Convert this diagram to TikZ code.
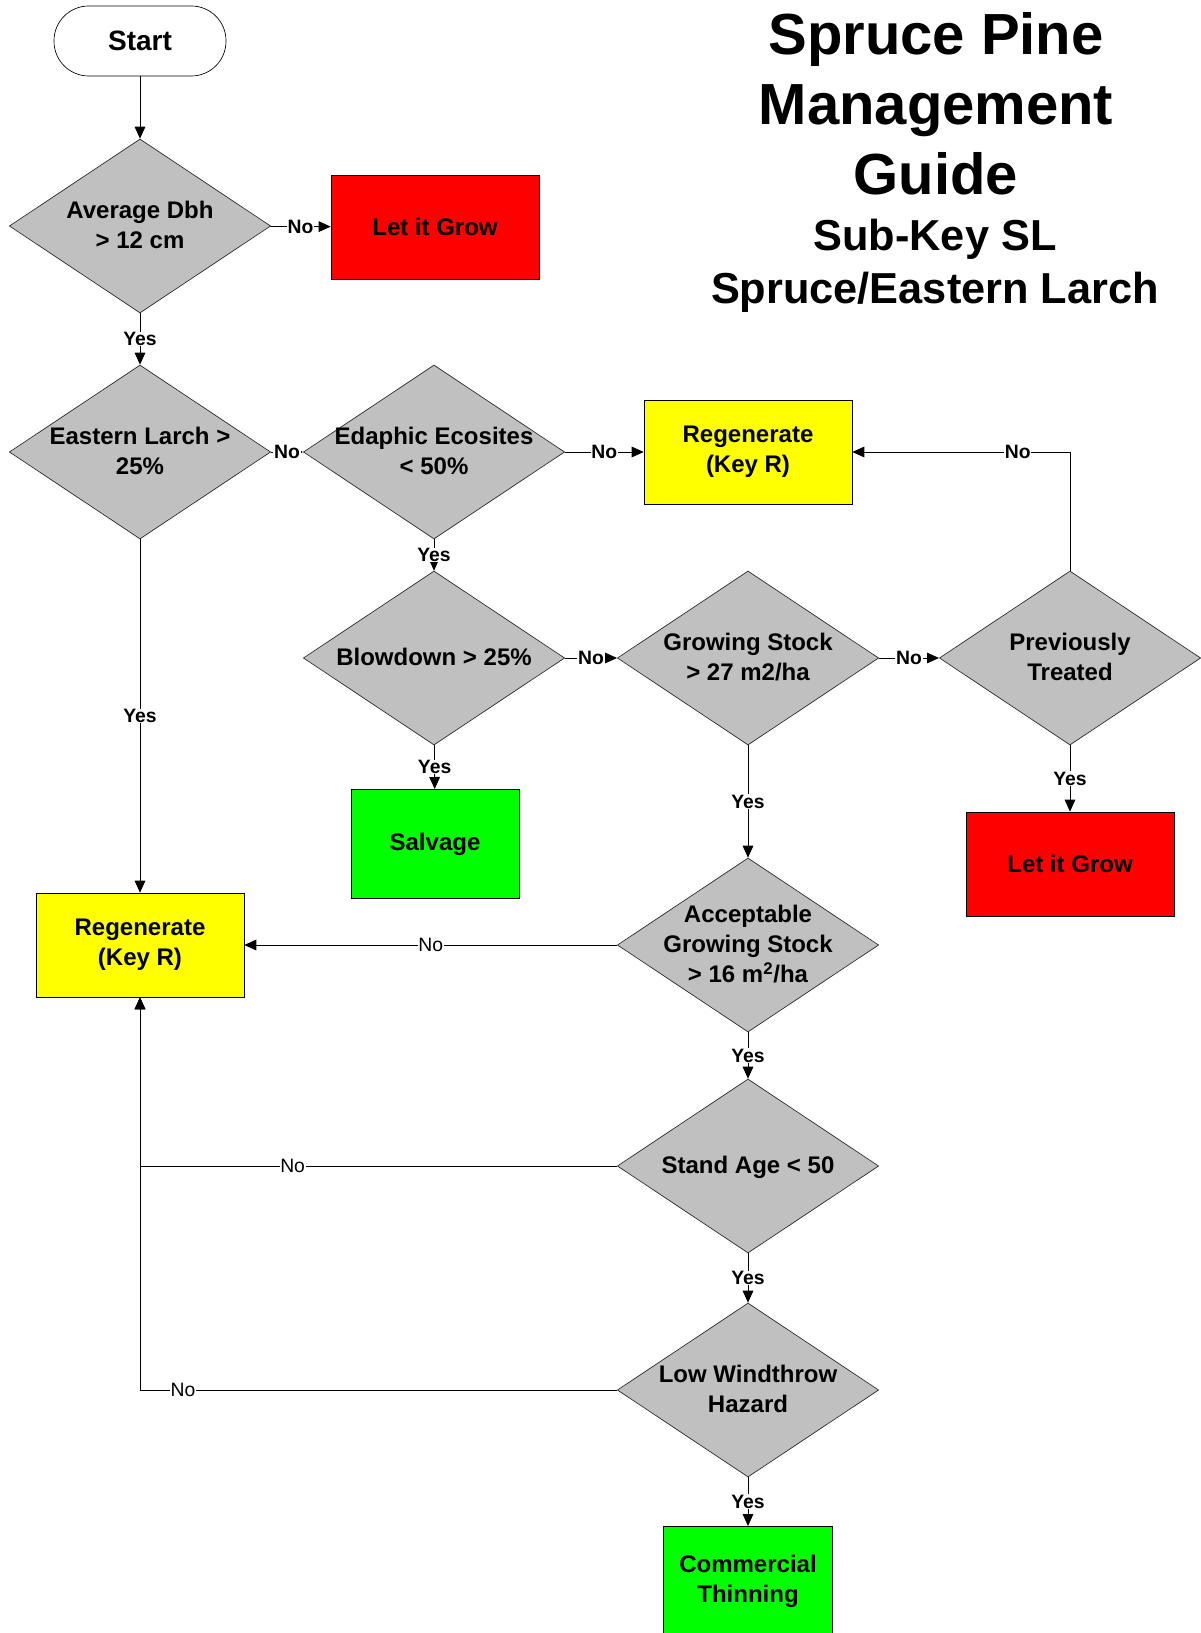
\documentclass[tikz,border=0pt]{standalone}
\usepackage{fontspec}
\setmainfont{Liberation Sans}
\usetikzlibrary{arrows.meta,positioning,shapes.geometric}
\definecolor{decgray}{HTML}{C0C0C0}
\definecolor{growred}{HTML}{FF0000}
\definecolor{regenyellow}{HTML}{FFFF00}
\definecolor{cutgreen}{HTML}{00FF00}
% text of a decision diamond, centred and allowed to spill over the edges
\newcommand{\dtext}[1]{\makebox[0pt]{\smash{\raisebox{-.32em}{\begin{tabular}{@{}c@{}}#1\end{tabular}}}}}

\begin{document}
\begin{tikzpicture}[x=0.75pt,y=-0.75pt,
  every node/.style={font=\bfseries\fontsize{18}{22.5}\selectfont},
  decision/.style={diamond,draw=black!85,line width=0.5pt,fill=decgray,aspect=1.5,
    inner sep=0pt,minimum width=196pt,minimum height=130.5pt},
  terminal/.style={draw,line width=0.5pt,fill=white,rounded corners=26pt,
    minimum width=129pt,minimum height=52.5pt,font=\bfseries\fontsize{21}{25}\selectfont},
  action/.style={draw,line width=0.5pt,align=center,minimum width=156pt,minimum height=78pt},
  arr/.style={-{Triangle[length=9pt,width=8pt]},line width=0.6pt},
  lbl/.style={fill=white,inner sep=0.5pt,font=\bfseries\fontsize{14.5}{16}\selectfont},
  lblr/.style={lbl,font=\fontsize{14.5}{16}\selectfont}]
\useasboundingbox (0,0) rectangle (1201,1633);

\node[align=center,font=\bfseries\fontsize{43.5}{52.5}\selectfont] (title) at (936,104)
  {Spruce Pine\\Management\\Guide};
\node[align=center,font=\bfseries\fontsize{32.5}{40}\selectfont] (subtitle) at (935,266)
  {Sub-Key SL\\Spruce/Eastern Larch};

\node[terminal] (start) at (140,41) {Start};
\node[decision] (avgdbh) at (140,226) {\dtext{Average Dbh\\> 12 cm}};
\node[action,fill=growred] (grow1) at (435,227) {Let it Grow};
\node[decision] (larch) at (140,452) {\dtext{Eastern Larch >\\25\%}};
\node[decision] (edaphic) at (434,452) {\dtext{Edaphic Ecosites\\< 50\%}};
\node[action,fill=regenyellow] (regen1) at (748,452) {Regenerate\\(Key R)};
\node[decision] (blowdown) at (434,658) {\dtext{Blowdown > 25\%}};
\node[decision] (stock) at (748,658) {\dtext{Growing Stock\\> 27 m2/ha}};
\node[decision] (treated) at (1070,658) {\dtext{Previously\\Treated}};
\node[action,fill=cutgreen,minimum width=126pt,minimum height=82pt] (salvage) at (435,844) {Salvage};
\node[action,fill=growred] (grow2) at (1070,864) {Let it Grow};
\node[action,fill=regenyellow] (regen2) at (140,945) {Regenerate\\(Key R)};
\node[decision] (accept) at (748,945) {\dtext{Acceptable\\Growing Stock\\> 16 m\textsuperscript{2}/ha}};
\node[decision] (age) at (748,1166) {\dtext{Stand Age < 50}};
\node[decision] (windthrow) at (748,1390) {\dtext{Low Windthrow\\Hazard}};
\node[action,fill=cutgreen,minimum width=127pt,minimum height=82pt] (thinning) at (748,1581) {Commercial\\Thinning};

\draw[arr] (start) -- (avgdbh);
\draw[arr] (avgdbh) -- node[lbl]{No} (grow1);
\draw[arr] (avgdbh) -- node[lbl]{Yes} (larch);
\draw[arr] (larch) -- node[lbl]{No} (edaphic);
\draw[arr] (larch) -- node[lbl]{Yes} (regen2);
\draw[arr] (edaphic) -- node[lbl]{No} (regen1);
\draw[arr] (edaphic) -- node[lbl]{Yes} (blowdown);
\draw[arr] (blowdown) -- node[lbl]{No} (stock);
\draw[arr] (blowdown) -- node[lbl]{Yes} (salvage);
\draw[arr] (stock) -- node[lbl]{No} (treated);
\draw[arr] (stock) -- node[lbl]{Yes} (accept);
\draw[arr] (treated) |- node[lbl,pos=0.62]{No} (regen1);
\draw[arr] (treated) -- node[lbl]{Yes} (grow2);
\draw[arr] (accept) -- node[lblr]{No} (regen2);
\draw[arr] (accept) -- node[lbl]{Yes} (age);
\draw[arr] (age) -| node[lblr,pos=0.34]{No} (regen2);
\draw[arr] (age) -- node[lbl]{Yes} (windthrow);
\draw[arr] (windthrow) -| node[lblr,pos=0.455]{No} (regen2);
\draw[arr] (windthrow) -- node[lbl]{Yes} (thinning);
\end{tikzpicture}
\end{document}
